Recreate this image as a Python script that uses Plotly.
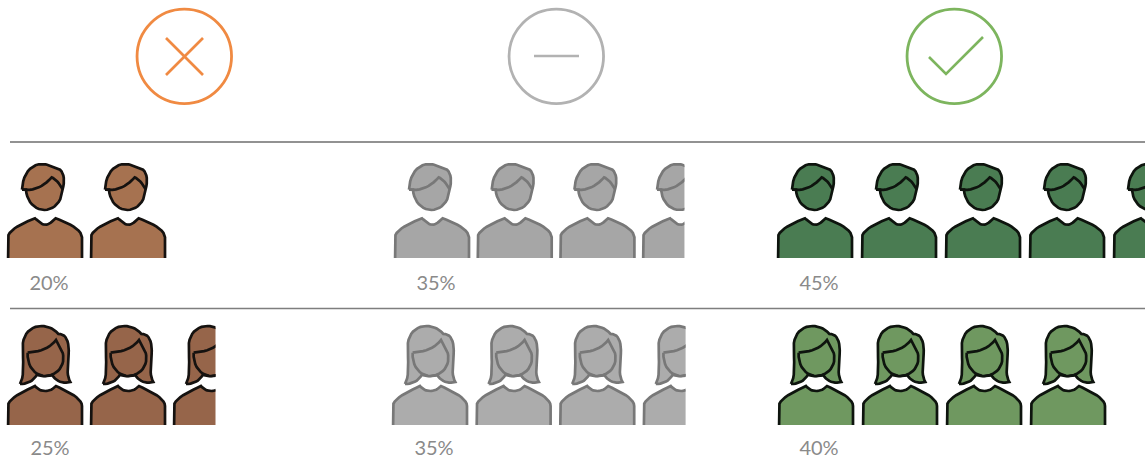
import math
import plotly.graph_objects as go

# ---- data ----
men_shares = [20, 35, 45]
women_shares = [25, 35, 40]
percent_per_icon = 10

# ---- styling ----
W, H = 1145, 473
men_fill = ["#A67250", "#A6A6A6", "#4A7C52"]
women_fill = ["#96654A", "#ACACAC", "#6F9860"]
stroke = ["#151210", "#787878", "#0E140E"]
head_colors = ["#F08A42", "#B2B2B2", "#7DB55E"]
head_x = [184.3, 556.3, 954.3]
men_left = [8, 395, 778]
women_left = [8, 393, 779]
men_pitch = [83, 82.7, 84]
women_pitch = [83, 83.6, 84]
men_label_x = [49, 436, 819]
women_label_x = [50, 434, 819]
ICON_LINE = 2.7


def bez(start, *segs, n=10):
    """Sample a path of cubic segments (c1, c2, end); a lone point is a straight line."""
    pts = [start]
    p0 = start
    for s in segs:
        if len(s) == 2 and not isinstance(s[0], tuple):
            pts.append(s)
            p0 = s
            continue
        c1, c2, p3 = s
        for k in range(1, n + 1):
            t = k / n
            u = 1 - t
            pts.append((
                u**3 * p0[0] + 3 * u*u*t * c1[0] + 3 * u*t*t * c2[0] + t**3 * p3[0],
                u**3 * p0[1] + 3 * u*u*t * c1[1] + 3 * u*t*t * c2[1] + t**3 * p3[1],
            ))
        p0 = p3
    return pts


# Icon outlines, traced at 3x; origin converted later
man_bottom, man_top = 325, 42
man_body = bez((24, 345), (24, 262), ((24, 240), (70, 218), (105, 205)),
               ((118, 216), (125, 224), (136, 224)), ((150, 224), (155, 214), (167, 205)),
               ((205, 218), (246, 240), (246, 262)), (246, 345))
man_head = bez((66, 119), ((68, 75), (90, 42), (127, 42)), ((145, 42), (155, 52), (168, 54)),
               ((192, 58), (196, 88), (188, 118)), ((186, 155), (162, 180), (133, 180)),
               ((105, 180), (80, 155), (78, 119)), (66, 119))
man_fringe = bez((66, 119), ((105, 124), (132, 108), (155, 82)), ((168, 88), (178, 100), (188, 118)))

woman_bottom, woman_top = 345, 48
woman_body = bez((24, 365), (24, 288), ((24, 265), (70, 245), (105, 228)),
                 ((116, 240), (124, 243), (136, 243)), ((150, 243), (158, 238), (168, 228)),
                 ((205, 245), (246, 265), (246, 288)), (246, 365))
woman_head = bez((60, 222), ((75, 200), (68, 140), (68, 110)), ((68, 72), (92, 48), (125, 48)),
                 ((148, 48), (165, 60), (175, 72)), ((198, 70), (208, 95), (206, 130)),
                 ((204, 165), (198, 195), (211, 216)), ((190, 222), (168, 215), (157, 195)),
                 ((145, 200), (125, 200), (110, 195)), ((100, 212), (85, 222), (60, 222)))
woman_face = bez((83, 128), ((120, 125), (150, 115), (168, 90)), ((175, 105), (190, 115), (190, 145)),
                 ((190, 175), (165, 198), (136, 198)), ((108, 198), (80, 172), (83, 128)))


def place(outlines, top, pitch, count):
    xs, ys = [], []
    for i in range(count):
        for outline in outlines:
            xs += [(p[0] - 24) / 3 / pitch + i for p in outline] + [None]
            ys += [(p[1] - top) / 3 for p in outline] + [None]
    return xs, ys


fig = go.Figure()
layout_axes = {}
axis_no = 0


def add_cell(share, x0, pitch, top_px, bottom_px, top3, fills, strokes, fill, line):
    global axis_no
    axis_no += 1
    n = share / percent_per_icon
    count = math.ceil(n)
    pad_px = 2.0
    top_pad = 3.0
    right = min(x0 + n * pitch, W)
    xref = f"x{axis_no}"
    yref = f"y{axis_no}"
    xs, ys = place(fills, top3, pitch, count)
    fig.add_trace(go.Scatter(x=xs, y=ys, mode="lines", fill="toself", fillcolor=fill,
                             line=dict(color=line, width=ICON_LINE), xaxis=xref, yaxis=yref,
                             hoverinfo="skip", showlegend=False))
    xs, ys = place(strokes, top3, pitch, count)
    fig.add_trace(go.Scatter(x=xs, y=ys, mode="lines", line=dict(color=line, width=ICON_LINE),
                             xaxis=xref, yaxis=yref, hoverinfo="skip", showlegend=False))
    common = dict(visible=False, fixedrange=True)
    layout_axes[f"xaxis{axis_no}"] = dict(
        domain=[(x0 - pad_px) / W, right / W],
        range=[-pad_px / pitch, (right - x0) / pitch], anchor=yref, **common)
    layout_axes[f"yaxis{axis_no}"] = dict(
        domain=[1 - bottom_px / H, 1 - (top_px - top_pad) / H],
        range=[bottom_px - top_px, -top_pad], anchor=xref, **common)


for c in range(3):
    add_cell(men_shares[c], men_left[c], men_pitch[c], 164, 258, man_top,
             [man_body, man_head], [man_fringe], men_fill[c], stroke[c])
    add_cell(women_shares[c], women_left[c], women_pitch[c], 326, 425, woman_top,
             [woman_body, woman_head], [woman_face], women_fill[c], stroke[c])

# Full-page axes for the header signs, the rules and the percentages
axis_no += 1
px, py = f"x{axis_no}", f"y{axis_no}"
layout_axes[f"xaxis{axis_no}"] = dict(domain=[0, 1], range=[0, W], visible=False, anchor=py, fixedrange=True)
layout_axes[f"yaxis{axis_no}"] = dict(domain=[0, 1], range=[H, 0], visible=False, anchor=px, fixedrange=True)


def page_line(xs, ys, color, width):
    fig.add_trace(go.Scatter(x=xs, y=ys, mode="lines", line=dict(color=color, width=width),
                             xaxis=px, yaxis=py, hoverinfo="skip", showlegend=False))


page_line([10, W], [142, 142], "#6E6E6E", 1.6)
page_line([10, W], [308.5, 308.5], "#7E7E7E", 1.3)

for c in range(3):
    fig.add_trace(go.Scatter(x=[head_x[c]], y=[56.3], mode="markers",
                             marker=dict(symbol="circle-open", size=94.5, color=head_colors[c],
                                         line=dict(color=head_colors[c], width=2.8)),
                             xaxis=px, yaxis=py, hoverinfo="skip", showlegend=False))

page_line([166, 203, None, 203, 166], [38, 75, None, 38, 75], head_colors[0], 2.6)
page_line([534, 579], [56, 56], head_colors[1], 2.6)
page_line([929, 946, 983], [57, 74, 37], head_colors[2], 2.6)

fig.add_trace(go.Scatter(
    x=men_label_x + women_label_x,
    y=[285] * 3 + [450] * 3,
    text=[f"{s}%" for s in men_shares + women_shares],
    mode="text", textfont=dict(family="Lato", size=20, color="#8A8A8A"),
    xaxis=px, yaxis=py, hoverinfo="skip", showlegend=False))

fig.update_layout(width=W, height=H, margin=dict(l=0, r=0, t=0, b=0),
                  paper_bgcolor="white", plot_bgcolor="rgba(0,0,0,0)",
                  showlegend=False, **layout_axes)

fig.write_html("out.html", config={"displayModeBar": False},
               post_script="document.body.style.margin='0';document.body.style.overflow='hidden';")
